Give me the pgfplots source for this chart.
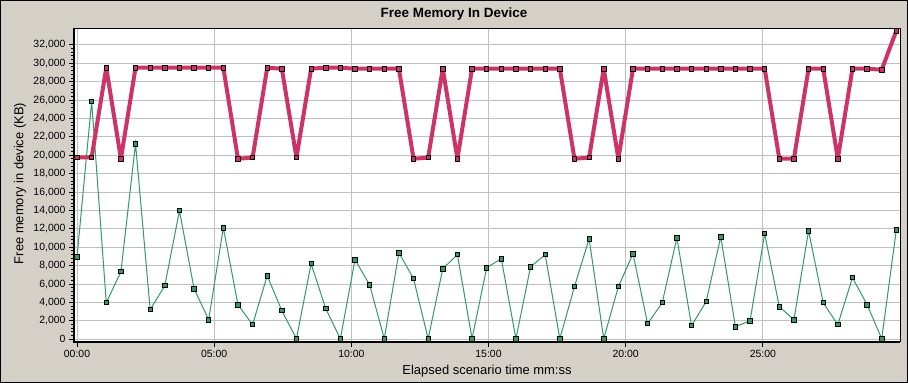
\documentclass[border=0pt]{standalone}
\usepackage{fontspec}
\setmainfont{Liberation Sans}
\usepackage{pgfplots}
\usepackage{pgfplotstable}
\pgfplotsset{compat=1.18}
\definecolor{winbg}{HTML}{D4D0C8}
\definecolor{memred}{HTML}{CC3366}
\definecolor{memgreen}{HTML}{339966}
\definecolor{gridgray}{HTML}{C0C0C0}
\pgfplotstableread{
t red green
0 19780 8950
32 19780 25830
64 29520 3980
96 19630 7350
128 29520 21260
160 29520 3220
192 29520 5830
224 29520 13980
256 29520 5500
288 29520 2130
320 29520 12130
352 19630 3760
384 19740 1590
416 29520 6910
448 29410 3110
480 19740 60
512 29410 8220
544 29520 3330
576 29520 60
608 29410 8650
640 29410 5930
672 29410 60
704 29410 9410
736 19630 6590
768 19740 60
800 29410 7670
832 19630 9200
864 29410 60
896 29410 7780
928 29410 8760
960 29410 60
992 29410 7890
1024 29410 9200
1056 29410 60
1088 19630 5720
1120 19740 10930
1152 29410 60
1184 19630 5720
1216 29410 9300
1248 29410 1700
1280 29410 3980
1312 29410 11040
1344 29410 1480
1376 29410 4090
1408 29410 11150
1440 29410 1370
1472 29410 2020
1504 29410 11480
1536 19630 3540
1568 19630 2130
1600 29410 11800
1632 29410 3980
1664 19630 1590
1696 29410 6700
1728 29410 3760
1760 29300 60
1792 33540 11910
}\memdata

\begin{document}
\begin{tikzpicture}
\path[use as bounding box] (-74bp,-41.3bp) rectangle (834bp,341.7bp);
\fill[winbg] (-74bp,-41.3bp) rectangle (834bp,341.7bp);
\draw[black, line width=1bp] (-73.5bp,-40.8bp) rectangle (833.5bp,341.2bp);
\begin{axis}[
  at={(0,0)}, anchor=south west,
  scale only axis, width=826bp, height=313.4bp,
  xmin=-6.6, xmax=1800, ymin=-260, ymax=33804,
  axis background/.style={fill=white},
  xtick={0,300,...,1500},
  xticklabels={00:00,05:00,10:00,15:00,20:00,25:00},
  ytick={0,2000,...,32000},
  minor y tick num=4,
  xtick pos=bottom, ytick pos=left,
  tick align=outside, major tick length=5bp, minor tick length=3bp,
  tick style={black, line width=1bp},
  grid=major, major grid style={gridgray, line width=1bp},
  axis line style={black, line width=1bp},
  ticklabel style={font=\fontsize{10.5}{12}\selectfont},
  /pgf/number format/.cd, 1000 sep={,}, assume math mode=true, /pgfplots/.cd,
  scaled y ticks=false,
  xlabel={Elapsed scenario time mm:ss},
  xlabel style={at={(axis description cs:0.5,-0.0935)}, anchor=center, font=\fontsize{13}{15}\selectfont},
  ylabel={Free memory in device (KB)},
  ylabel style={at={(axis description cs:-0.0654,0.505)}, anchor=center, font=\fontsize{13}{15}\selectfont},
]
\addplot[memgreen, line width=1bp, mark=square*, mark size=2.2bp,
  mark options={fill=memgreen, draw=black, line width=0.8bp, solid}]
  table[x=t, y=green]{\memdata};
\addplot[memred, line width=4bp, line join=round, mark=square*, mark size=2.2bp,
  mark options={fill=memred, draw=black, line width=0.8bp, solid}]
  table[x=t, y=red]{\memdata};
\end{axis}
\draw[black, line width=2bp] (0,313.4bp) -- (0,0) -- (826bp,0);
\node[anchor=center, font=\bfseries\fontsize{13.5}{15}\selectfont] at (380bp,327.7bp) {Free Memory In Device};
\end{tikzpicture}
\end{document}
